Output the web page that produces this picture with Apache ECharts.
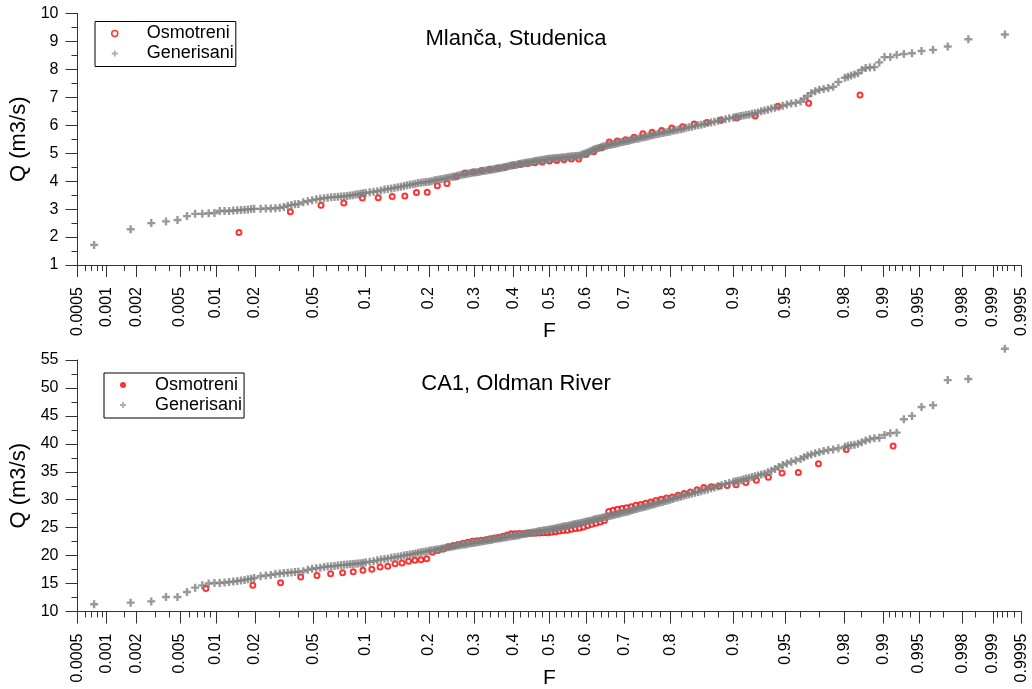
<!DOCTYPE html>
<html>
<head>
<meta charset="utf-8">
<title>Mlanča, Studenica / CA1, Oldman River</title>
<script src="https://cdn.jsdelivr.net/npm/echarts@6/dist/echarts.min.js"></script>
<style>
  html, body { margin: 0; padding: 0; background: #ffffff; }
  #chart { width: 1032px; height: 689px; }
</style>
</head>
<body>
<div id="chart"></div>
<script>
// ---- probability axis ticks (non-exceedance probability F) ----
const majorF = [0.0005, 0.001, 0.002, 0.005, 0.01, 0.02, 0.05, 0.1, 0.2, 0.3, 0.4, 0.5,
  0.6, 0.7, 0.8, 0.9, 0.95, 0.98, 0.99, 0.995, 0.998, 0.999, 0.9995];
const minorF = [0.0006, 0.0007, 0.0008, 0.0009, 0.0015, 0.003, 0.004, 0.006, 0.007, 0.008, 0.009,
  0.015, 0.03, 0.04, 0.06, 0.07, 0.08, 0.09, 0.12, 0.14, 0.16, 0.18, 0.22, 0.24, 0.26, 0.28,
  0.32, 0.34, 0.36, 0.38, 0.42, 0.44, 0.46, 0.48, 0.52, 0.54, 0.56, 0.58, 0.62, 0.64, 0.66, 0.68,
  0.72, 0.74, 0.76, 0.78, 0.82, 0.84, 0.86, 0.88, 0.91, 0.92, 0.93, 0.94, 0.96, 0.97, 0.985,
  0.991, 0.992, 0.993, 0.994, 0.996, 0.997, 0.9985, 0.9991, 0.9992, 0.9993, 0.9994];

// ---- Mlanča, Studenica: observed sample (plotting position F, discharge Q) ----
const obsF1 = [0.0152, 0.0354, 0.0556, 0.0758, 0.0960, 0.1162, 0.1364, 0.1566, 0.1768, 0.1970,
  0.2172, 0.2374, 0.2576, 0.2778, 0.2980, 0.3182, 0.3384, 0.3586, 0.3788, 0.3990, 0.4192, 0.4394,
  0.4596, 0.4798, 0.5000, 0.5202, 0.5404, 0.5606, 0.5808, 0.6010, 0.6212, 0.6414, 0.6616, 0.6818,
  0.7020, 0.7222, 0.7424, 0.7626, 0.7828, 0.8030, 0.8232, 0.8434, 0.8636, 0.8838, 0.9040, 0.9242,
  0.9444, 0.9646, 0.9848];
const obsQ1 = [2.16, 2.91, 3.14, 3.22, 3.40, 3.41, 3.45, 3.47, 3.59, 3.60, 3.84, 3.92, 4.16, 4.29,
  4.33, 4.38, 4.43, 4.46, 4.50, 4.56, 4.60, 4.63, 4.66, 4.69, 4.72, 4.74, 4.77, 4.79, 4.79, 4.95,
  5.05, 5.20, 5.40, 5.44, 5.48, 5.57, 5.70, 5.75, 5.81, 5.90, 5.95, 6.05, 6.10, 6.18, 6.26, 6.33,
  6.68, 6.79, 7.08];

// ---- CA1, Oldman River: observed sample ----
const obsF2 = [0.0083, 0.0193, 0.0304, 0.0414, 0.0525, 0.0635, 0.0746, 0.0856, 0.0967, 0.1077,
  0.1188, 0.1298, 0.1409, 0.1519, 0.1630, 0.1740, 0.1851, 0.1961, 0.2072, 0.2182, 0.2293, 0.2403,
  0.2514, 0.2624, 0.2735, 0.2845, 0.2956, 0.3066, 0.3177, 0.3287, 0.3398, 0.3508, 0.3619, 0.3729,
  0.3840, 0.3950, 0.4061, 0.4171, 0.4282, 0.4392, 0.4503, 0.4613, 0.4724, 0.4834, 0.4945, 0.5055,
  0.5166, 0.5276, 0.5387, 0.5497, 0.5608, 0.5718, 0.5829, 0.5939, 0.6050, 0.6160, 0.6271, 0.6381,
  0.6492, 0.6602, 0.6713, 0.6823, 0.6934, 0.7044, 0.7155, 0.7265, 0.7376, 0.7486, 0.7597, 0.7707,
  0.7818, 0.7928, 0.8039, 0.8149, 0.8260, 0.8370, 0.8481, 0.8591, 0.8702, 0.8812, 0.8923, 0.9033,
  0.9144, 0.9254, 0.9365, 0.9475, 0.9586, 0.9696, 0.9807, 0.9917];
const obsQ2 = [14.1, 14.68, 15.16, 16.17, 16.42, 16.77, 16.95, 17.13, 17.37, 17.55, 17.96, 18.08,
  18.56, 18.67, 18.97, 19.16, 19.28, 19.46, 20.6, 20.9, 21.2, 21.6, 21.8, 22.0, 22.2, 22.4, 22.55,
  22.65, 22.75, 22.85, 23.0, 23.15, 23.3, 23.45, 23.7, 23.9, 23.92, 23.95, 23.97, 24.0, 24.0, 24.02,
  24.05, 24.08, 24.1, 24.2, 24.25, 24.4, 24.5, 24.55, 24.7, 24.85, 24.95, 25.1, 25.4, 25.6, 25.8,
  26.0, 26.3, 27.9, 28.1, 28.3, 28.45, 28.55, 28.75, 29.0, 29.15, 29.35, 29.6, 29.85, 30.1, 30.3,
  30.5, 30.8, 31.1, 31.4, 31.8, 32.2, 32.3, 32.4, 32.55, 32.7, 33.1, 33.5, 34.0, 34.8, 34.87, 36.42,
  39.0, 39.6];

// ---- generated samples: shared plotting positions of the drawn ranks ----
const genF = [0.00075, 0.00175, 0.00275, 0.00375, 0.00475, 0.00575, 0.00675, 0.00775, 0.00875,
  0.00975, 0.01075, 0.01175, 0.01275, 0.01375, 0.01475, 0.01575, 0.01675, 0.01775, 0.01875, 0.01975,
  0.022, 0.024, 0.026, 0.028, 0.030, 0.032, 0.034, 0.036, 0.038, 0.040,
  0.043, 0.046, 0.049, 0.052, 0.055, 0.058, 0.061, 0.064, 0.067, 0.070,
  0.073, 0.076, 0.079, 0.082, 0.085, 0.088, 0.091, 0.094, 0.097, 0.100,
  0.105, 0.110, 0.115, 0.120, 0.125, 0.130, 0.135, 0.140, 0.145, 0.150,
  0.155, 0.160, 0.165, 0.170, 0.175, 0.180, 0.185, 0.190, 0.195, 0.200,
  0.205, 0.210, 0.215, 0.220, 0.225, 0.230, 0.235, 0.240, 0.245, 0.250,
  0.255, 0.260, 0.265, 0.270, 0.275, 0.280, 0.285, 0.290, 0.295, 0.300,
  0.305, 0.310, 0.315, 0.320, 0.325, 0.330, 0.335, 0.340, 0.345, 0.350,
  0.355, 0.360, 0.365, 0.370, 0.375, 0.380, 0.385, 0.390, 0.395, 0.400,
  0.405, 0.410, 0.415, 0.420, 0.425, 0.430, 0.435, 0.440, 0.445, 0.450,
  0.455, 0.460, 0.465, 0.470, 0.475, 0.480, 0.485, 0.490, 0.495, 0.500,
  0.505, 0.510, 0.515, 0.520, 0.525, 0.530, 0.535, 0.540, 0.545, 0.550,
  0.555, 0.560, 0.565, 0.570, 0.575, 0.580, 0.585, 0.590, 0.595, 0.600,
  0.605, 0.610, 0.615, 0.620, 0.625, 0.630, 0.635, 0.640, 0.645, 0.650,
  0.655, 0.660, 0.665, 0.670, 0.675, 0.680, 0.685, 0.690, 0.695, 0.700,
  0.705, 0.710, 0.715, 0.720, 0.725, 0.730, 0.735, 0.740, 0.745, 0.750,
  0.755, 0.760, 0.765, 0.770, 0.775, 0.780, 0.785, 0.790, 0.795, 0.800,
  0.805, 0.810, 0.815, 0.820, 0.825, 0.830, 0.835, 0.840, 0.845, 0.850,
  0.855, 0.860, 0.865, 0.870, 0.875, 0.880, 0.885, 0.890, 0.895,
  0.900, 0.903, 0.906, 0.909, 0.912, 0.915, 0.918, 0.921, 0.924, 0.927,
  0.930, 0.933, 0.936, 0.939, 0.942, 0.945, 0.948, 0.951, 0.954, 0.957,
  0.960, 0.962, 0.964, 0.966, 0.968, 0.970, 0.972, 0.974, 0.976, 0.978,
  0.98025, 0.98125, 0.98225, 0.98325, 0.98425, 0.98525, 0.98625, 0.98725, 0.98825, 0.98925,
  0.99025, 0.99125, 0.99225, 0.99325, 0.99425, 0.99525, 0.99625, 0.99725, 0.99825, 0.99925];

// generated discharges, Mlanča, Studenica
const genQ1 = [1.72, 2.28, 2.50, 2.56, 2.61, 2.75, 2.83, 2.83, 2.85, 2.86,
  2.93, 2.93, 2.93, 2.95, 2.96, 2.97, 2.98, 2.99, 3.00, 3.01,
  3.01, 3.02, 3.02, 3.03, 3.05, 3.08, 3.12, 3.15, 3.17, 3.18,
  3.25, 3.28, 3.32, 3.35, 3.37, 3.39, 3.41, 3.42, 3.43, 3.44,
  3.45, 3.46, 3.47, 3.49, 3.50, 3.52, 3.53, 3.55, 3.57, 3.58,
  3.60, 3.62, 3.64, 3.67, 3.70, 3.72, 3.74, 3.76, 3.78, 3.80,
  3.83, 3.85, 3.87, 3.89, 3.91, 3.93, 3.94, 3.96, 3.97, 3.98,
  4.00, 4.02, 4.04, 4.06, 4.07, 4.09, 4.10, 4.12, 4.14, 4.16,
  4.17, 4.19, 4.21, 4.23, 4.24, 4.26, 4.27, 4.28, 4.30, 4.31,
  4.32, 4.33, 4.35, 4.36, 4.37, 4.38, 4.40, 4.41, 4.42, 4.43,
  4.44, 4.46, 4.47, 4.48, 4.50, 4.51, 4.53, 4.54, 4.56, 4.57,
  4.58, 4.59, 4.61, 4.62, 4.63, 4.64, 4.66, 4.67, 4.68, 4.69,
  4.70, 4.72, 4.73, 4.74, 4.75, 4.76, 4.77, 4.78, 4.79, 4.80,
  4.81, 4.81, 4.82, 4.83, 4.83, 4.84, 4.85, 4.85, 4.86, 4.87,
  4.87, 4.88, 4.89, 4.89, 4.90, 4.91, 4.92, 4.95, 4.97, 5.00,
  5.03, 5.06, 5.09, 5.12, 5.15, 5.17, 5.19, 5.21, 5.24, 5.25,
  5.27, 5.29, 5.30, 5.32, 5.33, 5.35, 5.37, 5.39, 5.40, 5.42,
  5.44, 5.45, 5.47, 5.49, 5.51, 5.52, 5.54, 5.56, 5.57, 5.59,
  5.61, 5.63, 5.65, 5.67, 5.69, 5.71, 5.72, 5.74, 5.76, 5.78,
  5.80, 5.82, 5.84, 5.86, 5.88, 5.91, 5.93, 5.95, 5.98, 6.00,
  6.02, 6.05, 6.08, 6.10, 6.13, 6.16, 6.19, 6.22, 6.25,
  6.28, 6.30, 6.31, 6.33, 6.35, 6.37, 6.39, 6.41, 6.43, 6.46,
  6.50, 6.53, 6.56, 6.60, 6.63, 6.66, 6.70, 6.74, 6.78, 6.80,
  6.85, 6.95, 7.05, 7.15, 7.22, 7.27, 7.30, 7.33, 7.38, 7.55,
  7.70, 7.74, 7.78, 7.82, 7.86, 7.98, 8.05, 8.07, 8.08, 8.25,
  8.44, 8.44, 8.52, 8.55, 8.58, 8.66, 8.70, 8.82, 9.08, 9.25];

// generated discharges, CA1, Oldman River
const genQ2 = [11.3, 11.58, 11.81, 12.6, 12.6, 13.5, 14.27, 14.68, 15.0, 15.1,
  15.1, 15.2, 15.27, 15.35, 15.45, 15.55, 15.65, 15.75, 15.85, 16.0,
  16.3, 16.45, 16.55, 16.7, 16.8, 16.9, 16.95, 17.0, 17.05, 17.1,
  17.2, 17.45, 17.65, 17.75, 17.85, 17.95, 18.05, 18.1, 18.15, 18.25,
  18.3, 18.35, 18.4, 18.45, 18.5, 18.55, 18.6, 18.65, 18.7, 18.8,
  18.9, 19.0, 19.15, 19.3, 19.4, 19.5, 19.6, 19.7, 19.8, 19.9,
  20.0, 20.1, 20.2, 20.3, 20.4, 20.5, 20.6, 20.7, 20.75, 20.85,
  20.95, 21.0, 21.1, 21.15, 21.25, 21.3, 21.4, 21.5, 21.55, 21.65,
  21.7, 21.8, 21.85, 21.95, 22.0, 22.05, 22.1, 22.2, 22.25, 22.3,
  22.35, 22.45, 22.5, 22.55, 22.6, 22.7, 22.75, 22.8, 22.85, 22.95,
  23.0, 23.05, 23.1, 23.15, 23.25, 23.3, 23.35, 23.4, 23.45, 23.5,
  23.55, 23.6, 23.65, 23.75, 23.8, 23.85, 23.9, 24.0, 24.05, 24.1,
  24.15, 24.2, 24.25, 24.35, 24.4, 24.45, 24.5, 24.55, 24.6, 24.65,
  24.7, 24.75, 24.85, 24.9, 25.0, 25.05, 25.15, 25.2, 25.25, 25.3,
  25.4, 25.45, 25.55, 25.6, 25.7, 25.75, 25.8, 25.9, 25.95, 26.05,
  26.15, 26.2, 26.3, 26.4, 26.5, 26.55, 26.65, 26.7, 26.8, 26.9,
  27.0, 27.05, 27.15, 27.2, 27.3, 27.4, 27.5, 27.6, 27.7, 27.75,
  27.85, 27.95, 28.05, 28.15, 28.3, 28.4, 28.5, 28.6, 28.7, 28.8,
  28.9, 29.05, 29.15, 29.25, 29.4, 29.5, 29.6, 29.75, 29.85, 30.0,
  30.15, 30.3, 30.4, 30.55, 30.7, 30.85, 31.0, 31.1, 31.25, 31.4,
  31.5, 31.7, 31.85, 32.05, 32.2, 32.4, 32.6, 32.8, 33.0,
  33.2, 33.3, 33.4, 33.5, 33.65, 33.8, 33.9, 34.05, 34.2, 34.35,
  34.5, 34.65, 34.9, 35.2, 35.5, 35.85, 36.2, 36.5, 36.8, 37.0,
  37.3, 37.6, 37.9, 38.1, 38.3, 38.5, 38.7, 38.9, 39.0, 39.2,
  39.5, 39.65, 39.75, 39.85, 40.0, 40.3, 40.6, 40.8, 41.0, 41.1,
  41.6, 41.9, 42.0, 44.4, 45.0, 46.6, 46.9, 51.4, 51.6, 57.0];

// ---- normal probability scale: F -> standard normal quantile (Acklam) ----
function probit(p) {
  const a = [-3.969683028665376e+01, 2.209460984245205e+02, -2.759285104469687e+02,
    1.383577518672690e+02, -3.066479806614716e+01, 2.506628277459239e+00];
  const b = [-5.447609879822406e+01, 1.615858368580409e+02, -1.556989798598866e+02,
    6.680131188771972e+01, -1.328068155288572e+01];
  const c = [-7.784894002430293e-03, -3.223964580411365e-01, -2.400758277161838e+00,
    -2.549732539343734e+00, 4.374664141464968e+00, 2.938163982698783e+00];
  const d = [7.784695709041462e-03, 3.224671290700398e-01, 2.445134137142996e+00,
    3.754408661907416e+00];
  const pLow = 0.02425, pHigh = 1 - pLow;
  let q, r;
  if (p < pLow) {
    q = Math.sqrt(-2 * Math.log(p));
    return (((((c[0] * q + c[1]) * q + c[2]) * q + c[3]) * q + c[4]) * q + c[5]) /
      ((((d[0] * q + d[1]) * q + d[2]) * q + d[3]) * q + 1);
  }
  if (p <= pHigh) {
    q = p - 0.5; r = q * q;
    return (((((a[0] * r + a[1]) * r + a[2]) * r + a[3]) * r + a[4]) * r + a[5]) * q /
      (((((b[0] * r + b[1]) * r + b[2]) * r + b[3]) * r + b[4]) * r + 1);
  }
  q = Math.sqrt(-2 * Math.log(1 - p));
  return -(((((c[0] * q + c[1]) * q + c[2]) * q + c[3]) * q + c[4]) * q + c[5]) /
    ((((d[0] * q + d[1]) * q + d[2]) * q + d[3]) * q + 1);
}

const FONT = '"Liberation Sans", Arial, Helvetica, sans-serif';
const AXIS_COLOR = '#333333';
const zMin = probit(majorF[0]);
const zMax = probit(majorF[majorF.length - 1]);
const majorZ = majorF.map(probit);
const minorZ = minorF.map(probit);
// plus-shaped marker with thick arms
const CROSS = 'path://M3.5,0h3v3.5h3.5v3h-3.5v3.5h-3v-3.5h-3.5v-3h3.5z';

function fLabel(v) {
  let best = majorF[0], bd = Infinity;
  majorF.forEach(function (f, i) {
    const dz = Math.abs(majorZ[i] - v);
    if (dz < bd) { bd = dz; best = f; }
  });
  return String(best);
}

function toPoints(fs, qs) {
  return fs.map(function (f, i) { return [probit(f), qs[i]]; });
}

function probAxes(gridIndex) {
  return [
    {
      type: 'value', gridIndex: gridIndex, position: 'bottom', min: zMin, max: zMax,
      axisLine: { show: true, onZero: false, lineStyle: { color: AXIS_COLOR, width: 1 } },
      axisTick: { show: true, length: 12, customValues: majorZ, lineStyle: { color: AXIS_COLOR } },
      axisLabel: {
        show: true, customValues: majorZ, rotate: 90, margin: 22, fontSize: 16,
        color: '#000', fontFamily: FONT, formatter: fLabel
      },
      splitLine: { show: false },
      name: 'F', nameLocation: 'middle', nameGap: 56, nameMoveOverlap: false,
      nameTextStyle: { fontSize: 21, color: '#000', fontFamily: FONT }
    },
    {
      type: 'value', gridIndex: gridIndex, position: 'bottom', min: zMin, max: zMax,
      axisLine: { show: false },
      axisTick: { show: true, length: 6, customValues: minorZ, lineStyle: { color: AXIS_COLOR } },
      axisLabel: { show: false },
      splitLine: { show: false }
    }
  ];
}

function qAxis(gridIndex, min, max, interval) {
  return {
    type: 'value', gridIndex: gridIndex, min: min, max: max, interval: interval,
    axisLine: { show: true, onZero: false, lineStyle: { color: AXIS_COLOR, width: 1 } },
    axisTick: { show: true, length: 12, lineStyle: { color: AXIS_COLOR } },
    minorTick: { show: true, splitNumber: 2, length: 6, lineStyle: { color: AXIS_COLOR } },
    axisLabel: { margin: 19, fontSize: 16, color: '#000', fontFamily: FONT },
    splitLine: { show: false },
    minorSplitLine: { show: false },
    name: 'Q (m3/s)', nameLocation: 'middle', nameGap: 48, nameMoveOverlap: false,
    nameTextStyle: { fontSize: 22, color: '#000', fontFamily: FONT }
  };
}

function legendBox(left, top, obsIconStyle) {
  return {
    left: left, top: top, orient: 'vertical',
    padding: [3, 2, 4, 16], itemGap: 2, itemWidth: 6, itemHeight: 6,
    borderColor: '#000', borderWidth: 1, backgroundColor: '#fff',
    selectedMode: false,
    textStyle: { fontSize: 18, color: '#000', fontFamily: FONT, padding: [0, 0, 0, 24] },
    data: [
      { name: 'Osmotreni', icon: 'circle', itemStyle: obsIconStyle },
      { name: 'Generisani', icon: CROSS, itemStyle: { color: '#9a9a9a', borderWidth: 0 } }
    ]
  };
}

const obsStyle = { color: '#ffffff', borderColor: '#ff0000', borderWidth: 2 };
const genStyle = { color: '#808080' };

const chart = echarts.init(document.getElementById('chart'), null, { renderer: 'canvas' });
chart.setOption({
  animation: false,
  backgroundColor: '#ffffff',
  textStyle: { fontFamily: FONT },
  title: [
    { text: 'Mlanča, Studenica', left: 'center', top: 28, padding: [0, 0, 0, 6],
      textStyle: { fontSize: 22, fontWeight: 'normal', color: '#000', fontFamily: FONT } },
    { text: 'CA1, Oldman River', left: 'center', top: 373, padding: [0, 0, 0, 6],
      textStyle: { fontSize: 22, fontWeight: 'normal', color: '#000', fontFamily: FONT } }
  ],
  legend: [
    legendBox(95, 21.5, { color: '#fff', borderColor: '#ff0000', borderWidth: 1.5 }),
    legendBox(104, 373, { color: '#ff0000', borderWidth: 0 })
  ],
  grid: [
    { left: 77.5, right: 10.5, top: 13.5, height: 251.5, outerBoundsMode: 'none' },
    { left: 77.5, right: 10.5, top: 360, height: 251.5, outerBoundsMode: 'none' }
  ],
  xAxis: probAxes(0).concat(probAxes(1)),
  yAxis: [qAxis(0, 1, 10, 1), qAxis(1, 10, 55, 5)],
  series: [
    { type: 'scatter', name: 'Osmotreni', xAxisIndex: 0, yAxisIndex: 0, symbol: 'circle',
      symbolSize: 5, itemStyle: obsStyle, z: 2, data: toPoints(obsF1, obsQ1) },
    { type: 'scatter', name: 'Generisani', xAxisIndex: 0, yAxisIndex: 0, symbol: CROSS,
      symbolSize: 8, itemStyle: genStyle, z: 3, data: toPoints(genF, genQ1) },
    { type: 'scatter', name: 'Osmotreni', xAxisIndex: 2, yAxisIndex: 1, symbol: 'circle',
      symbolSize: 5, itemStyle: obsStyle, z: 2, data: toPoints(obsF2, obsQ2) },
    // the largest generated value lies above the top of the Q scale and is still drawn
    { type: 'scatter', name: 'Generisani', xAxisIndex: 2, yAxisIndex: 1, symbol: CROSS,
      symbolSize: 8, itemStyle: genStyle, z: 3, clip: false, data: toPoints(genF, genQ2) }
  ]
});
</script>
</body>
</html>
